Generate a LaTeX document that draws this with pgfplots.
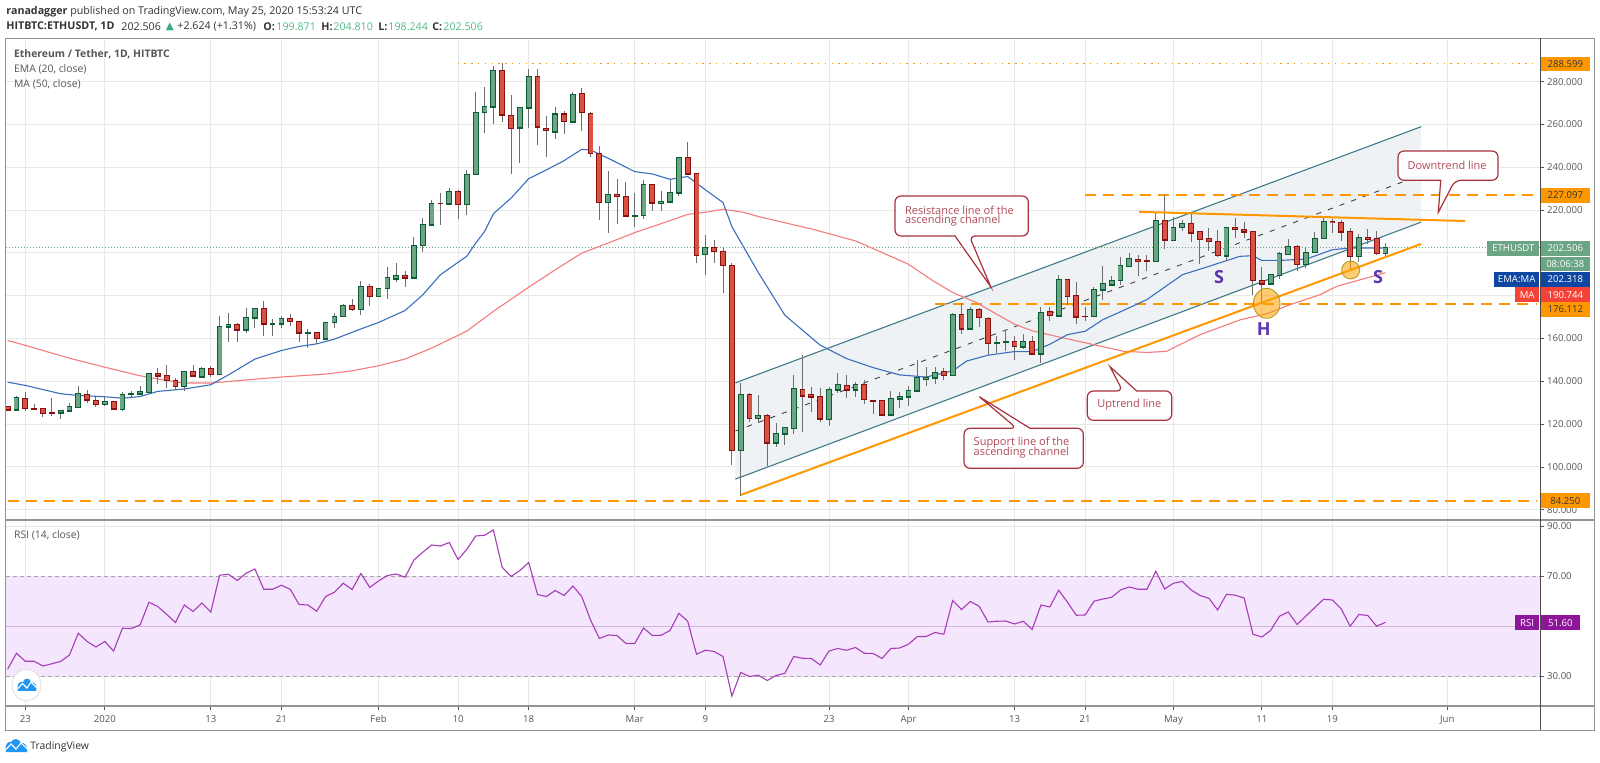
\documentclass[border=0pt]{standalone}
\usepackage{fontspec}
\setmainfont{Open Sans}
\newfontfamily\sym{DejaVu Sans}
\usepackage{pgfplots}
\usepackage{pgfplotstable}
\pgfplotsset{compat=1.18}
\definecolor{gfill}{HTML}{6BA583}
\definecolor{gedge}{HTML}{0B5E33}
\definecolor{rfill}{HTML}{D75442}
\definecolor{redge}{HTML}{8A0F12}
\definecolor{wick}{HTML}{6E6E6E}
\definecolor{gridc}{HTML}{E8E8E8}
\definecolor{ema}{HTML}{3A6FBB}
\definecolor{mac}{HTML}{F57C7C}
\definecolor{org}{HTML}{FF9800}
\definecolor{chan}{HTML}{3E7C88}
\definecolor{chanf}{HTML}{EDF0F4}
\definecolor{rsif}{HTML}{F4E6FD}
\definecolor{rsil}{HTML}{A63CB8}
\definecolor{rsib}{HTML}{8E1599}
\definecolor{txtg}{HTML}{555555}
\definecolor{call}{HTML}{A8323C}
\definecolor{callt}{HTML}{B04A55}
\definecolor{purp}{HTML}{5E35B1}
\definecolor{teal2}{HTML}{53B987}
\definecolor{navy}{HTML}{0D47A1}
\definecolor{mared}{HTML}{F44336}
\definecolor{logo}{HTML}{2196F3}

\pgfplotstableread{
d o h l c
-1 126.7 133 126.4 132.2
4 125.4 126.7 122.3 126.2
5 126.2 130 126 128
6 127.8 138 127.5 134.2
9 129.2 133 128.6 130.4
11 127 135 126 134
12 134.3 135.7 132.4 134.5
13 134.2 138 134 135.1
14 135 144 134.8 143.8
18 137.6 145 135.3 144.6
20 142.1 146.5 142 146.2
22 143.4 170.6 143 165.5
23 165.6 171.9 158.6 166.4
25 164 174.2 162.8 169.7
26 169.8 173.9 164.7 173.9
28 166.8 169 161.3 166.9
29 166.9 170.3 164.7 169.5
32 162.5 164.4 155.5 162.6
34 160 167.7 159.4 167.7
35 167.7 171.9 165 170.2
36 170.3 176 170 175.6
38 173.6 187 170.8 184.3
40 179.7 183.5 179.5 183.5
41 183.5 193.4 178.7 188.5
42 188 195.2 186.2 189.6
44 188.5 207.4 188 203.6
45 203.6 216.3 200.5 213.1
46 213.1 224.5 213 223.3
48 222.9 230.4 222.7 228.8
50 222.8 238.8 217.8 236.7
51 236.7 275.4 236.5 265.4
52 265.7 277.4 255.9 268.3
53 268.3 287.3 260.2 285
56 258.5 268.3 241.8 267.9
57 267.9 285.8 258.5 282.5
60 256.7 268 253.4 264.9
62 261.2 275.3 261 274.1
66 223.6 238.3 209.5 227.4
69 217.4 228 212.3 217.6
70 217.6 234 215.9 231.9
72 223.5 229 219.6 224
73 224 234 223.8 228.2
74 228.2 244.8 226.8 244.8
77 199.4 208.4 189.6 202.7
81 107.7 139.3 86.3 133.8
83 122.7 133.5 120.4 124
85 111.2 120.7 109.2 115.6
86 115.6 118.5 110.1 118.2
87 118.2 143 115.4 136.6
91 122.3 137.2 119.2 136.1
92 136.1 143.8 134.7 138.6
94 136.1 139.7 132.9 138.6
98 124.3 135.4 124.1 131.9
99 131.9 135.2 127.7 132.7
100 132.7 137.9 128.5 135.5
101 135.5 150 135.3 141.6
102 141.1 146.7 137.9 141.6
103 141.6 146.6 138.9 143.9
105 142.8 171.7 142.5 171.2
107 164.5 174.8 164 173.5
110 158 161.2 153.1 158.1
111 158.3 163.6 154.2 158.5
113 156.2 162.3 155 158.6
115 152.8 174.9 148.4 172.1
117 170.7 189.7 170.5 187.5
121 170.5 184 170.3 182.7
122 182.7 194 178.2 185.6
123 185.2 189 184.4 187.3
124 187.3 198 185.2 193.9
125 193.9 200 193.5 197.3
128 196 218.6 195.8 215.3
130 206 217 205.8 212
131 212 215.2 210.4 213.6
136 198.7 212.2 196 212
141 185.6 190 185.2 189.8
142 189.5 200.4 187.8 199.5
143 199.5 206.5 199.3 203.2
145 194.8 203 193 200.3
146 200.3 210 200 206.9
147 206.9 216.6 206.7 214.9
151 198.4 209 195.7 207.2
154 199.871 204.81 198.244 202.506
}\greentable

\pgfplotstableread{
d o h l c
-2 128 128.5 126 126.7
0 132.1 135 126 127.5
1 127.5 129.5 126.4 127.3
2 127.5 127.6 123.3 125
3 125.2 132 124 125
7 134 136 130 131.4
8 131.2 133.2 128 129.3
10 130.4 131 126.4 127.2
15 143.8 146 138.8 142.6
16 142.6 147.7 137 140.4
17 140.4 141.5 136 137.6
19 144.6 147.7 142 142.6
21 146.2 147 142 143.4
24 166.4 167.2 158.3 164
27 173.9 177.6 161.3 166.9
30 169.4 171.4 166 168
31 168.1 168.2 158.6 162.7
33 162.6 162.8 157.5 160.2
37 175.6 178.6 173 173.6
39 184.3 185.4 175 179.7
43 189.6 191.7 184.3 188.5
47 223.3 228 213.1 223.1
49 228.8 229.2 216 222.8
54 285 288.6 261.3 264.6
55 264.4 273.8 236.9 258.2
58 282.5 285.8 250.4 259
59 258.2 264 244.7 257.4
61 264.9 266.5 255.5 261.6
63 274.4 277.2 257 265.8
64 265.2 266 245 246.6
65 246.6 250 215.4 223.6
67 227.4 234.6 213.4 226.5
68 226.5 233 217 217.3
71 231.9 232 219.6 223.5
75 244.8 251.7 236.7 236.9
76 236.9 237.2 195.2 199
78 202.7 206.1 195.2 200.7
79 200.7 203 181.4 194.3
80 194.3 195.2 100.7 107.7
82 134 134.7 121 122.7
84 124 124.5 100.5 111.2
88 136.1 152.2 116.4 133.2
89 133.6 137.4 125.7 132.7
90 132.9 137 121 122.6
93 138.2 142.8 132.4 136.1
95 138.5 140.7 129.6 131.6
96 131 131.2 124.6 130.9
97 131 131.2 124.1 124.3
104 144.5 146 140.7 142.8
106 171.2 176.5 162.1 164.5
108 173.4 174.3 165.4 169.9
109 169.5 170.2 152.2 157.9
112 158.6 161.2 149.8 156.5
114 158.6 161.2 152.2 152.8
116 172.5 174.8 168.2 170.8
118 187.5 187.8 175.8 179.7
119 179.9 186.3 166.8 170.2
120 170.5 174.6 168 170.3
126 197.1 199.2 189.4 196
127 196.4 199.2 191.7 196.2
129 215.3 227.2 201.8 206.2
132 213.6 218.9 204.9 209.4
133 209.9 210.2 194.8 206.5
134 206.5 211.6 201 205.4
135 205.2 210.8 197.9 198.8
137 212 216.3 206.9 211
138 211.1 214.6 206.9 209.9
139 209.9 210.2 180.2 187.3
140 187.3 193.4 176.1 185.6
144 203.2 203.6 191.4 194.8
148 214.9 215.8 209.3 214.4
149 214.4 215.5 205.8 209.9
150 209.9 211.6 191.4 198.4
152 207.4 211.1 204.3 206.5
153 206.5 210.4 199.2 199.8
}\redtable

\pgfplotstableread{
d v
-2 139.6
0 138.1
4 134.2
6 133.4
9 132.8
11 132.1
13 132.9
15 135.3
18 136.4
21 138.4
23 143
26 150.4
29 154.4
31 156.3
33 157.5
35 159.7
38 164.5
40 167.5
43 173.1
45 180.4
47 189.8
50 198.5
51 204.6
52 210
53 218.3
55 225.6
57 234.7
59 238.8
61 243.1
63 248.4
64 248.1
66 244.2
69 238
71 236.9
73 234.4
75 235.7
77 229.5
79 223.5
80 212.3
83 190.8
86 170.9
90 156.9
93 150.6
96 146.4
99 143
102 142
105 144.9
106.6 149.5
109 152.2
112 153.9
114 153.9
116 157.3
118 161.8
120 163.4
122 168.8
124 172.5
127 178.2
129 184
131 189.8
134 193.7
137.5 198.4
139 198.7
140 196.5
142 196.5
145 197.1
148 201.5
150 202.3
152 202.3
154 202.318
}\ematable

\pgfplotstableread{
d v
-2 159.1
0 156.8
5 150.8
9 146.6
13 142.6
16 140.4
18 139.2
21 139.2
26 141
29 142
34 143.4
37 144.9
40 147.3
43 150.4
46 155.5
50 163.5
53 172.7
57 184
60 192.1
63 199.9
65 203
69 209.5
73 215.1
75 218
77 219
79 220.4
81.3 219
83 217
89.2 211
94 205.6
97 200.2
100 194.7
102.8 186.9
105 181.5
107.7 176.8
110 171.3
112 166.7
114 163.6
117.6 160.2
121 157.1
124.4 154
127 153.5
129.2 154
133 161.8
137.6 168.8
140.6 171.6
143.2 175.8
146.6 180.5
148.5 184.4
154 190.744
}\matable

\pgfplotstableread{
d v
-2 32.8
-1 39.2
0 36
1 36
2 34.1
3 35
4 35.9
5 38.5
6 47.2
7 43.9
8 41.7
9 43.9
10 40.1
11 49.2
12 49.1
13 50.5
14 59.6
15 57.9
16 54.8
17 51.5
18 58.5
19 55.9
20 59.3
21 55.7
22 70.4
23 70.8
24 68.3
25 71.2
26 72.9
27 64.8
28 64.8
29 66.4
30 64.8
31 58.7
32 58.5
33 56
34 61.9
35 63.6
36 67.2
37 64.7
38 71.1
39 65.5
40 68.1
41 70.3
42 70.9
43 69.6
44 76.5
45 79.6
46 82.5
47 82.1
48 83.5
49 76.7
50 80.8
51 86.1
52 86.4
53 88.5
54 73.6
55 69.9
56 72.3
57 75.5
58 62.7
59 61.9
60 64.3
61 62.3
62 66.1
63 61.9
64 52.5
65 45.1
66 46.5
67 46.3
68 43.1
69 43.1
70 49.3
71 46.3
72 46.4
73 48.3
74 55.2
75 52
76 38.8
77 40.4
78 39.9
79 37.9
80 22.1
81 31.5
82 29.9
83 30.4
84 28.3
85 30.3
86 31.2
87 37.9
88 37.2
89 37.1
90 34.5
91 40.1
92 41.1
93 40.4
94 41.5
95 39.2
96 39.1
97 37.1
98 41.1
99 41.3
100 42.8
101 45.9
102 45.9
103 47.5
104 46.8
105 60.3
106 56.7
107 59.9
108 58
109 51.7
110 52
111 52.1
112 50.9
113 52
114 48.7
115 58.5
116 57.7
117 64.4
118 59.6
119 54.4
120 54.5
121 60
122 60.9
123 61.6
124 64.5
125 65.7
126 64.8
127 64.8
128 72
129 64.9
130 67.2
131 67.9
132 64.5
133 62.3
134 61.2
135 56.5
136 62.8
137 62.4
138 61.3
139 46.8
140 45.7
141 48.3
142 54
143 55.7
144 50.7
145 54.1
146 57.5
147 60.8
148 60.5
149 56.9
150 50
151 54.7
152 54.3
153 50
154 51.6
}\rsitable

\newcommand\candleset[3]{% table, edge, fill
  \addplot[draw=none,no markers,forget plot,error bars/.cd,y dir=both,y explicit,error mark=none,
    error bar style={draw=wick,line width=0.5pt}]
    table[x=d,y=c,y error plus expr=\thisrow{h}-\thisrow{c},y error minus expr=\thisrow{c}-\thisrow{l}]{#1};
  \addplot[draw=none,no markers,forget plot,error bars/.cd,y dir=both,y explicit,error mark=none,
    error bar style={draw=#2,line width=2.9pt}]
    table[x=d,y expr={min(\thisrow{o},\thisrow{c})},y error plus expr={abs(\thisrow{c}-\thisrow{o})+0.25},y error minus expr=0.25]{#1};
  \addplot[draw=none,no markers,forget plot,error bars/.cd,y dir=plus,y explicit,error mark=none,
    error bar style={draw=#3,line width=2.0pt}]
    table[x=d,y expr={min(\thisrow{o},\thisrow{c})+0.22},y error plus expr={max(abs(\thisrow{c}-\thisrow{o})-0.44,0)}]{#1};
}
\newcommand\pricebox[6]{% x1 x2 yc fill textcolor text
  \fill[#4] (#1,#3-7.4) rectangle (#2,#3+7.4);
  \node[text=#5,font=\fontsize{4.8}{5}\selectfont,inner sep=0pt] at ({(#1+#2)/2},#3) {#6};
}
\begin{document}
\begin{tikzpicture}
\path[use as bounding box] (0pt,0pt) rectangle (800pt,-381.5pt);
\fill[white] (0pt,0pt) rectangle (800pt,-381.5pt);

\begin{axis}[
  at={(2.75pt,-19.25pt)},anchor=north west,scale only axis,
  width=767.25pt,height=240.75pt,
  xmin=-2.24,xmax=171.5,ymin=75.2,ymax=300.2,
  axis line style={draw=none},
  xtick={0,9,21,29,40,49,57,69,77,91,100,112,120,130,140,148,161},
  xticklabels={},
  xtick style={draw=none},
  ytick={80,100,...,280},
  yticklabels={80.000,100.000,120.000,140.000,160.000,,,220.000,240.000,260.000,280.000},
  ytick pos=right,yticklabel pos=right,
  tick align=outside,
  major tick length=2.2pt,
  ytick style={draw=txtg,line width=0.4pt},
  y tick label style={font=\fontsize{4.8}{5}\selectfont,text=txtg,inner xsep=1.2pt},
  grid=major,
  grid style={gridc,line width=0.5pt},
]
% channel
\addplot[draw=none,fill=chanf,fill opacity=0.85,forget plot] coordinates {(80.4,139.3)(158.05,259)(158.05,214.4)(80.4,94.3)} --cycle;
\addplot[chan,line width=0.55pt] coordinates {(80.4,139.3)(158.05,259)};
\addplot[chan,line width=0.55pt] coordinates {(80.4,94.3)(158.05,214.4)};
\addplot[black!75,line width=0.45pt,dash pattern=on 2.6pt off 3.6pt] coordinates {(80.4,116.8)(158.05,236.4)};
% horizontals
\addplot[org,line width=0.6pt,dash pattern=on 0.7pt off 2.7pt] coordinates {(48.95,288.599)(171.2,288.599)};
\addplot[org,line width=0.9pt,dash pattern=on 5.5pt off 3.6pt] coordinates {(120,227.097)(171.2,227.097)};
\addplot[org,line width=0.9pt,dash pattern=on 5.5pt off 3.6pt] coordinates {(103,176.112)(171.2,176.112)};
\addplot[org,line width=0.9pt,dash pattern=on 5.5pt off 3.6pt] coordinates {(-2,84.25)(171.2,84.25)};
\addplot[gfill,line width=0.4pt,dash pattern=on 0.5pt off 1pt] coordinates {(-2.24,202.506)(171.5,202.506)};
% MAs
\addplot[mac,line width=0.55pt] table[x=d,y=v]{\matable};
\addplot[ema,line width=0.55pt] table[x=d,y=v]{\ematable};
% candles
\candleset{\greentable}{gedge}{gfill}
\candleset{\redtable}{redge}{rfill}
% trend lines
\addplot[org,line width=1pt] coordinates {(81,86.9)(158.05,204.2)};
\addplot[org,line width=1pt] coordinates {(126.1,219.2)(163,214.9)};
\end{axis}

\begin{axis}[
  at={(2.75pt,-260pt)},anchor=north west,scale only axis,
  width=767.25pt,height=93pt,
  xmin=-2.24,xmax=171.5,ymin=18.1,ymax=92.5,
  axis line style={draw=none},
  xtick={0,9,21,29,40,49,57,69,77,91,100,112,120,130,140,148,161},
  xticklabels={23,2020,13,21,Feb,10,18,Mar,9,23,Apr,13,21,May,11,19,Jun},
  xtick pos=bottom,
  x tick label style={font=\fontsize{4.8}{5}\selectfont,text=txtg,inner ysep=1pt,yshift=-1.4pt},
  ytick={30,70,90},
  yticklabels={30.00,70.00,90.00},
  ytick pos=right,yticklabel pos=right,
  tick align=outside,
  major tick length=2.2pt,
  tick style={draw=txtg,line width=0.4pt},
  y tick label style={font=\fontsize{4.8}{5}\selectfont,text=txtg,inner xsep=1.2pt},
  grid=major,
  grid style={gridc,line width=0.5pt},
]
\addplot[draw=none,fill=rsif,forget plot] coordinates {(-2.24,30)(171.5,30)(171.5,70)(-2.24,70)} --cycle;
\addplot[gray!70,line width=0.4pt,dash pattern=on 2pt off 1.5pt] coordinates {(-2.24,70)(171.5,70)};
\addplot[gray!70,line width=0.4pt,dash pattern=on 2pt off 1.5pt] coordinates {(-2.24,30)(171.5,30)};
\addplot[rsil!30!gridc,line width=0.5pt] coordinates {(-2.24,50)(171.5,50)};
\addplot[rsil,line width=0.55pt] table[x=d,y=v]{\rsitable};
\end{axis}

\begin{scope}[x=0.5pt,y=-0.5pt]
% frame
\draw[gray!85,line width=0.5pt] (5.5,38.5) rectangle (1594,730);
\draw[gray!85,line width=0.8pt] (5.5,520) -- (1594,520);
\draw[gray!85,line width=0.7pt] (5.5,706) -- (1594,706);
\draw[black!70,line width=0.5pt] (1540,38.5) -- (1540,730);

% header
\node[anchor=west,inner sep=0pt,font=\fontsize{5.35}{6}\selectfont,text=black!80] at (6,11.5)
  {\textbf{ranadagger} published on TradingView.com, May 25, 2020 15:53:24 UTC};
\begin{scope}[every node/.style={anchor=west,inner sep=0pt,font=\fontsize{5.35}{6}\selectfont,text=black!80}]
\node at (6,26.5) {\textbf{HITBTC:ETHUSDT, 1D}};
\node at (121,26.5) {202.506};
\node[text=teal2!70!teal] at (165.5,26.5) {\sym\fontsize{5.2}{6}\selectfont ▲};
\node at (177,26.5) {+2.624 (+1.31\%)};
\node at (263,26.5) {\textbf{O:}};
\node[text=teal2] at (276,26.5) {199.871};
\node at (321,26.5) {\textbf{H:}};
\node[text=teal2] at (333,26.5) {204.810};
\node at (378,26.5) {\textbf{L:}};
\node[text=teal2] at (388,26.5) {198.244};
\node at (432,26.5) {\textbf{C:}};
\node[text=teal2] at (443,26.5) {202.506};
\end{scope}
\begin{scope}[every node/.style={anchor=west,inner sep=0pt,font=\fontsize{5.2}{6}\selectfont,text=txtg}]
\node at (13.7,54) {\textbf{Ethereum / Tether, 1D, HITBTC}};
\node at (13.7,69.5) {EMA (20, close)};
\node at (13.7,84.5) {MA (50, close)};
\node at (13.7,535.5) {RSI (14, close)};
\end{scope}

% highlights
\filldraw[fill=org!90!yellow,draw=olive!80!orange,fill opacity=0.55,draw opacity=0.8,line width=0.45pt] (1266.7,303.3) ellipse [x radius=13.3,y radius=15];
\filldraw[fill=org!90!yellow,draw=olive!80!orange,fill opacity=0.55,draw opacity=0.8,line width=0.45pt] (1350.7,270) ellipse [x radius=9,y radius=9];
\node[text=purp,font=\fontsize{9}{10}\selectfont\bfseries,inner sep=0pt] at (1219,276.7) {S};
\node[text=purp,font=\fontsize{9}{10}\selectfont\bfseries,inner sep=0pt] at (1263.7,329.5) {H};
\node[text=purp,font=\fontsize{9}{10}\selectfont\bfseries,inner sep=0pt] at (1378,277.5) {S};

% callouts
\begin{scope}[line width=0.6pt,draw=call,fill=white]
\filldraw[fill=white,draw=call,rounded corners=3pt] (895,196) -- (1028.3,196) -- (1028.3,236) -- (969.3,236) [sharp corners] -- (990.7,286.7) -- (955,236) [rounded corners=3pt] -- (895,236) -- cycle;
\filldraw[fill=white,draw=call,rounded corners=3pt] (964,428.3) -- (1016.7,428.3) [sharp corners] -- (979.3,396.7) -- (1030,428.3) [rounded corners=3pt] -- (1083.3,428.3) -- (1083.3,468.3) -- (964,468.3) -- cycle;
\filldraw[fill=white,draw=call,rounded corners=3pt] (1087.3,391) -- (1122.7,391) [sharp corners] -- (1110,366.7) -- (1136.7,391) [rounded corners=3pt] -- (1171.7,391) -- (1171.7,420.3) -- (1087.3,420.3) -- cycle;
\filldraw[fill=white,draw=call,rounded corners=3pt] (1398,151) -- (1498,151) -- (1498,180.3) -- (1455,180.3) [sharp corners] -- (1438.3,212.3) -- (1440.7,180.3) [rounded corners=3pt] -- (1398,180.3) -- cycle;
\end{scope}
\begin{scope}[every node/.style={anchor=west,inner sep=0pt,font=\fontsize{5.5}{5.2}\selectfont,text=callt}]
\node at (904.7,210) {Resistance line of the};
\node at (904.7,220.3) {ascending channel};
\node at (973.3,442.3) {Support line of the};
\node at (973.3,452.7) {ascending channel};
\node at (1097,404.7) {Uptrend line};
\node at (1407.3,165) {Downtrend line};
\end{scope}

% price boxes
\pricebox{1540.5}{1590}{64}{org}{black!80}{288.599}
\pricebox{1540.5}{1590}{195.5}{org}{black!80}{227.097}
\pricebox{1540.5}{1590}{309.5}{org}{black!80}{176.112}
\pricebox{1540.5}{1590}{500.6}{org}{black!80}{84.250}
\pricebox{1487.3}{1539.3}{248.2}{gfill}{white}{ETHUSDT}
\pricebox{1540.5}{1590}{248.2}{gfill}{white}{202.506}
\pricebox{1540.5}{1590}{264}{gfill}{white}{08:06:38}
\pricebox{1494}{1539.3}{279.4}{navy}{white}{EMA:MA}
\pricebox{1540.5}{1590}{279.4}{navy}{white}{202.318}
\pricebox{1515}{1539.3}{294.8}{mared}{white}{MA}
\pricebox{1540.5}{1590}{294.8}{mared}{white}{190.744}
\pricebox{1515}{1539.3}{622.7}{rsib}{white}{RSI}
\pricebox{1540.5}{1580}{622.7}{rsib}{white}{51.60}

% logo bubble
\filldraw[fill=white,draw=gray!20,line width=0.5pt] (26.5,685) ellipse [x radius=14.5,y radius=15.5];
\fill[logo] (18,691) .. controls (16,684) and (20,681) .. (23,682) .. controls (25,677) and (30,678) .. (31,682) .. controls (35,682) and (38,686) .. (36,691) -- cycle;
\draw[white,line width=0.55pt] (17.5,689) -- (22.5,683.5) -- (27,688) -- (31,682) -- (37,688);
\fill[logo] (6,752) .. controls (4,745) and (8,741) .. (11,742) .. controls (13,738) and (19,738) .. (21,743) .. controls (25,742) and (28,747) .. (27,752) -- cycle;
\draw[white,line width=0.55pt] (5.5,750) -- (11,744) -- (16,749) -- (21,743) -- (27.5,749);
\node[anchor=west,inner sep=0pt,font=\fontsize{5.2}{6}\selectfont,text=black!80] at (30,746.5) {TradingView};
\end{scope}
\end{tikzpicture}
\end{document}
